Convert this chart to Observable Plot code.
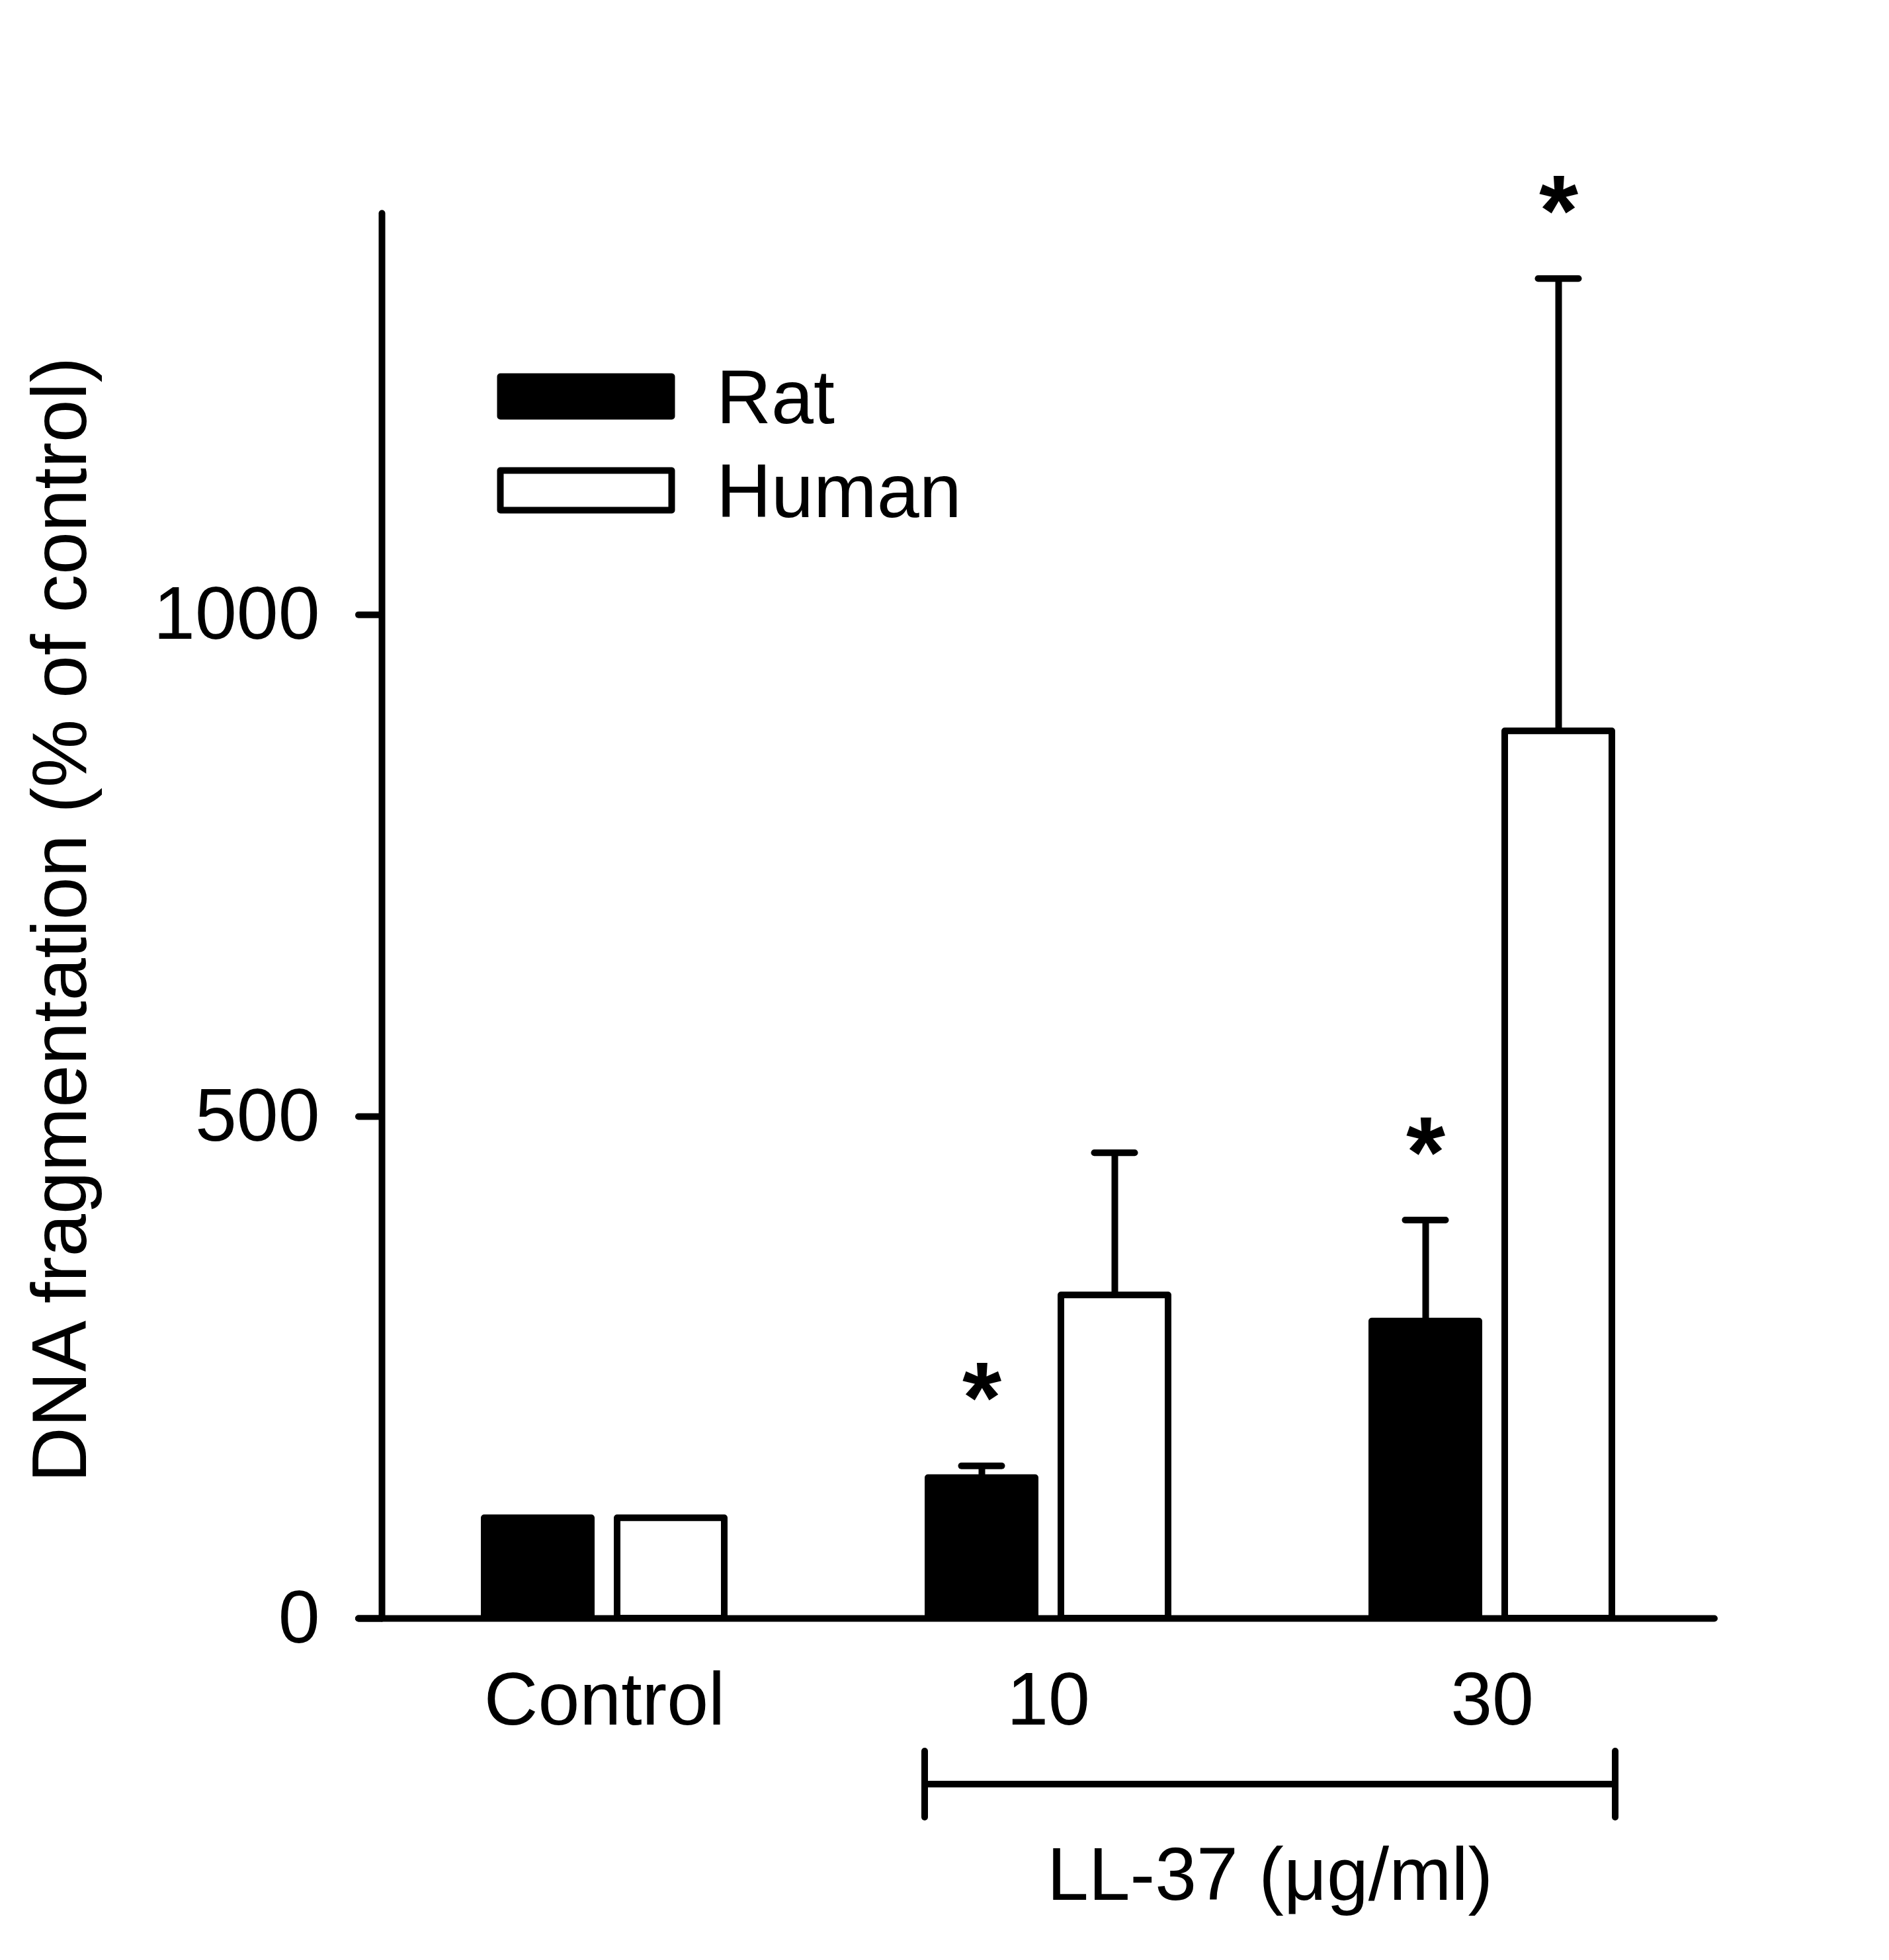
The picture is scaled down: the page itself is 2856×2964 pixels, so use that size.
<!DOCTYPE html>
<html>
<head>
<meta charset="utf-8">
<script src="https://cdn.jsdelivr.net/npm/d3@7"></script>
<script src="https://cdn.jsdelivr.net/npm/@observablehq/plot@0.6"></script>
<style>
  body { margin: 0; background: #fff; }
  svg { font-family: "Liberation Sans", Arial, sans-serif; }
</style>
</head>
<body>
<div id="chart"></div>
<script>
// ---- data ----
const doses = ["Control", "10", "30"];
const species = ["Rat", "Human"];
const ratMean = [100, 140, 296];
const ratSem = [0, 12, 101];
const humanMean = [100, 322, 884];
const humanSem = [0, 142, 451];
const ratSig = [false, true, true];
const humanSig = [false, false, true];
const yTicks = [0, 500, 1000];
const yLabel = "DNA fragmentation (% of control)";
const xGroupLabel = "LL-37 (μg/ml)";

// ---- build table ----
const rows = doses.flatMap((dose, i) => [
  {dose, species: species[0], mean: ratMean[i], sem: ratSem[i], hi: ratMean[i] + ratSem[i], sig: ratSig[i]},
  {dose, species: species[1], mean: humanMean[i], sem: humanSem[i], hi: humanMean[i] + humanSem[i], sig: humanSig[i]}
]);
const rat = rows.filter(d => d.species === "Rat");
const human = rows.filter(d => d.species === "Human");

// ---- layout / style ----
const W = 2856, H = 2964;
const SW = 10;
const FS = 113;
const inOuter = 20, inInner = 221;       // bar insets within each dose band
const capOuter = 70.5, capInner = 271.5; // error-cap insets
const off = 100.5;                        // bar centre offset from band centre

const chart = Plot.plot({
  width: W,
  height: H,
  marginLeft: 577,
  marginRight: 264,
  marginTop: 322,
  marginBottom: H - 2447,
  x: {domain: doses, paddingInner: 0.4, paddingOuter: 0.2},
  y: {domain: [0, 1400]},
  style: {background: "white", color: "black", fontFamily: "Liberation Sans, Arial, sans-serif", fontSize: FS + "px"},
  marks: [
    Plot.barY(rat, {x: "dose", y: "mean", fill: "black", stroke: "black", strokeWidth: SW, strokeLinejoin: "round", insetLeft: inOuter, insetRight: inInner}),
    Plot.barY(human, {x: "dose", y: "mean", fill: "white", stroke: "black", strokeWidth: SW, strokeLinejoin: "round", insetLeft: inInner, insetRight: inOuter}),
    Plot.ruleX(rat.filter(d => d.sem > 0), {x: "dose", y1: "mean", y2: "hi", dx: -off, stroke: "black", strokeWidth: SW}),
    Plot.ruleX(human.filter(d => d.sem > 0), {x: "dose", y1: "mean", y2: "hi", dx: off, stroke: "black", strokeWidth: SW}),
    Plot.tickY(rat.filter(d => d.sem > 0), {x: "dose", y: "hi", insetLeft: capOuter, insetRight: capInner, stroke: "black", strokeWidth: SW, strokeLinecap: "round"}),
    Plot.tickY(human.filter(d => d.sem > 0), {x: "dose", y: "hi", insetLeft: capInner, insetRight: capOuter, stroke: "black", strokeWidth: SW, strokeLinecap: "round"}),
    Plot.text(rat.filter(d => d.sig), {x: "dose", y: "hi", text: () => "*", dx: -off, dy: -99, fontSize: 152, fontWeight: "bold", lineAnchor: "middle", fill: "black"}),
    Plot.text(human.filter(d => d.sig), {x: "dose", y: "hi", text: () => "*", dx: off, dy: -99, fontSize: 152, fontWeight: "bold", lineAnchor: "middle", fill: "black"}),
    Plot.ruleY([0], {stroke: "black", strokeWidth: SW, strokeLinecap: "round", insetLeft: -35}),
    Plot.frame({anchor: "left", stroke: "black", strokeWidth: SW, strokeLinecap: "round"}),
    Plot.axisY({ticks: yTicks, tickSize: 35, tickPadding: 59, tickFormat: d => String(d), fontSize: FS, strokeWidth: SW, strokeLinecap: "round", label: null}),
    Plot.axisX({tickSize: 0, tickPadding: 80, fontSize: FS, label: null}),
    Plot.text([yLabel], {frameAnchor: "left", text: d => d, rotate: -90, dx: -485, dy: 6, fontSize: 116, textAnchor: "middle", lineAnchor: "middle", fill: "black"})
  ]
});

document.getElementById("chart").appendChild(chart);

// ---- annotations drawn with the plot's own x scale ----
const svg = d3.select(chart);
const xs = chart.scale("x");
const bw = xs.bandwidth;
const bx1 = xs.apply("10") + 15;
const bx2 = xs.apply("30") + bw - 15;
const y0 = chart.scale("y").apply(0);
const g = svg.append("g").attr("stroke", "black").attr("stroke-width", SW).attr("stroke-linecap", "round");
g.append("line").attr("x1", bx1).attr("x2", bx2).attr("y1", y0 + 251).attr("y2", y0 + 251).attr("stroke-linecap", "butt");
g.append("line").attr("x1", bx1).attr("x2", bx1).attr("y1", y0 + 201).attr("y2", y0 + 301);
g.append("line").attr("x1", bx2).attr("x2", bx2).attr("y1", y0 + 201).attr("y2", y0 + 301);
svg.append("text").attr("x", (bx1 + bx2) / 2).attr("y", y0 + 426)
  .attr("text-anchor", "middle").attr("font-size", FS).attr("fill", "black").text(xGroupLabel);

// ---- legend ----
const legend = svg.append("g").attr("text-anchor", "start");
species.forEach((s, i) => {
  const yy = 569.5 + i * 142;
  legend.append("rect").attr("x", 756.5).attr("y", yy).attr("width", 259).attr("height", 60)
    .attr("fill", i === 0 ? "black" : "white").attr("stroke", "black").attr("stroke-width", SW).attr("stroke-linejoin", "round");
  legend.append("text").attr("x", 1083).attr("y", yy + 30 + 40).attr("text-anchor", "start")
    .attr("font-size", 115).attr("fill", "black").text(s);
});
</script>
</body>
</html>
